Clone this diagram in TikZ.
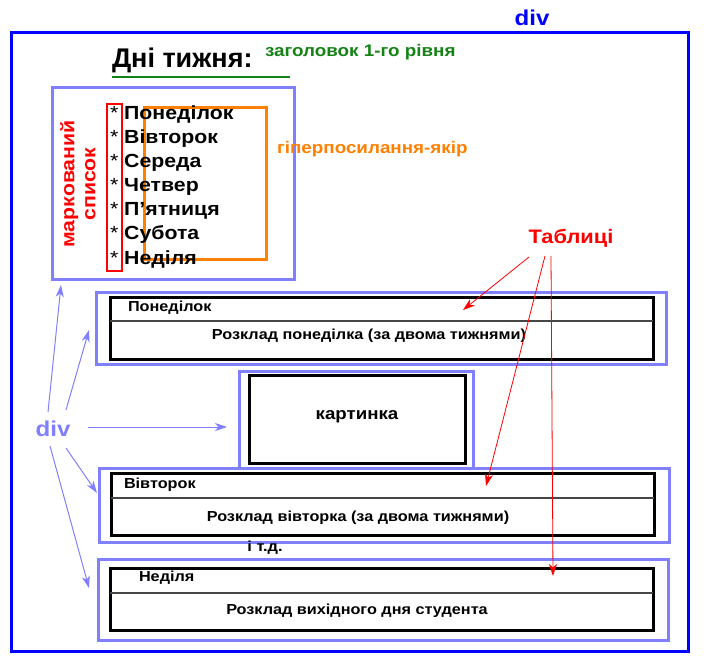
\documentclass[tikz,border=0pt]{standalone}
\usepackage{fontspec}
\setmainfont{Liberation Sans}[FakeStretch=1.12]
\newfontfamily\headfont{Liberation Sans}
\usetikzlibrary{arrows.meta,calc}
\definecolor{divblue}{RGB}{0,0,255}
\definecolor{lav}{RGB}{128,128,255}
\definecolor{hgreen}{RGB}{20,130,20}
\definecolor{orng}{RGB}{255,128,0}
\definecolor{divgray}{RGB}{70,70,70}
\newcommand{\fsz}[1]{\fontsize{#1}{#1}\selectfont\bfseries}
\tikzset{
  outerdiv/.style={draw=divblue, line width=3pt, inner sep=0pt, outer sep=0pt, anchor=north west},
  lbox/.style={draw=lav, line width=3pt, inner sep=0pt, outer sep=0pt, anchor=north west},
  bbox/.style={draw=black, line width=3pt, inner sep=0pt, outer sep=0pt, anchor=north west},
  divline/.style={draw=divgray, line width=1.5pt},
  lavarrow/.style={draw=lav, line width=1pt, -{Stealth[length=12pt,width=8pt,inset=3.5pt]}},
  redarrow/.style={draw=red, line width=0.8pt, -{Stealth[length=12pt,width=8pt,inset=3.5pt]}},
  txt/.style={inner sep=0pt, outer sep=0pt},
}
\begin{document}
\begin{tikzpicture}[x=1pt,y=-1pt]
\useasboundingbox (0,0) rectangle (704,663);
% outer div
\node[outerdiv, minimum width=677pt, minimum height=618pt] (outer) at (11,33) {};
\node[txt, text=divblue, font=\fsz{21.5}] (divtop) at (532,18) {div};
% heading
\node[txt, anchor=base west, font=\headfont\fsz{27}] (head) at (112,68) {Дні тижня:};
\draw[draw=hgreen, line width=2pt] (head.base west |- 0,77) coordinate (ul1) -- (290,77) coordinate (ul2);
\node[txt, anchor=west, text=hgreen, font=\fsz{16.8}] (headlbl) at (265,52) {заголовок 1-го рівня};
% list box
\node[lbox, minimum width=242pt, minimum height=191pt] (listbox) at (52,88) {};
\node[txt, rotate=90, align=center, text=red, font=\fsz{19}] (listlbl) at (78,184) {маркований\\[2pt]список};
\node[draw=red, line width=2pt, inner sep=0pt, outer sep=0pt, anchor=north west, minimum width=15pt, minimum height=167pt] (bullets) at (107,104) {};
\node[draw=orng, line width=3pt, inner sep=0pt, outer sep=0pt, anchor=north west, minimum width=122pt, minimum height=151pt] (anchors) at (144,108) {};
\foreach \d [count=\i] in {Понеділок,Вівторок,Середа,Четвер,П\char39ятниця,Субота,Неділя}{
  \node[txt, anchor=base west, font=\fsz{19}] (item\i) at (110,{120+24*(\i-1)}) {{\mdseries*}~\d};
}
\node[txt, anchor=west, text=orng, font=\fsz{16.8}] (anchlbl) at (277,149) {гіперпосилання-якір};
% Table 1
\node[lbox, minimum width=570pt, minimum height=72pt] (t1o) at (96,292) {};
\node[bbox, minimum width=543pt, minimum height=62pt] (t1) at (110,297) {};
\draw[divline] (t1.west |- 0,321) -- (t1.east |- 0,321);
\node[txt, anchor=west, font=\fsz{14.5}] (t1h) at (128,308) {Понеділок};
\node[txt, font=\fsz{14.5}] (t1b) at (369,336) {Розклад понеділка (за двома тижнями)};
% Picture
\node[lbox, minimum width=234pt, minimum height=97pt] (po) at (239,371) {};
\node[bbox, minimum width=216pt, minimum height=88pt] (pic) at (249,375) {};
\node[txt, anchor=base, font=\fsz{16.7}] (pict) at (357,419) {картинка};
% Table 2
\node[lbox, minimum width=570pt, minimum height=74pt] (t2o) at (99,468) {};
\node[bbox, minimum width=543pt, minimum height=62pt] (t2) at (111,473) {};
\draw[divline] (t2.west |- 0,498) -- (t2.east |- 0,498);
\node[txt, anchor=west, font=\fsz{14.5}] (t2h) at (124,485) {Вівторок};
\node[txt, font=\fsz{14.5}] (t2b) at (358,518) {Розклад вівторка (за двома тижнями)};
\node[txt, font=\fsz{14.6}] (etc) at (265,548) {і т.д.};
% Table 3
\node[lbox, minimum width=570pt, minimum height=81pt] (t3o) at (98,559) {};
\node[bbox, minimum width=543pt, minimum height=62pt] (t3) at (110,568) {};
\draw[divline] (t3.west |- 0,593) -- (t3.east |- 0,593);
\node[txt, anchor=west, font=\fsz{14.5}] (t3h) at (139,578) {Неділя};
\node[txt, font=\fsz{14.5}] (t3b) at (357,611) {Розклад вихідного дня студента};
% Tables label and arrows
\node[txt, text=red, font=\fsz{19.5}] (tabl) at (571,238) {Таблиці};
\coordinate (r1s) at (529,257);
\coordinate (r2s) at (545,256);
\coordinate (r3s) at (551,256);
\coordinate (r1e) at (463,310);
\coordinate (r2e) at (486,486);
\coordinate (r3e) at (553,576);
\draw[redarrow] (r1s) -- (r1e);
\draw[redarrow] (r2s) -- (r2e);
\draw[redarrow] (r3s) -- (r3e);
% div label and arrows
\node[txt, text=lav, font=\fsz{21.5}] (divl) at (53,429) {div};
\coordinate (l1s) at (48,412);
\coordinate (l2s) at (66,410);
\coordinate (l3s) at (88,427);
\coordinate (l4s) at (66,448);
\coordinate (l5s) at (50,446);
\coordinate (l1e) at (61,285);
\coordinate (l2e) at (89,330);
\coordinate (l3e) at (227,427);
\coordinate (l4e) at (97,493);
\coordinate (l5e) at (89,588);
\draw[lavarrow] (l1s) -- (l1e);
\draw[lavarrow] (l2s) -- (l2e);
\draw[lavarrow] (l3s) -- (l3e);
\draw[lavarrow] (l4s) -- (l4e);
\draw[lavarrow] (l5s) -- (l5e);
\end{tikzpicture}
\end{document}
